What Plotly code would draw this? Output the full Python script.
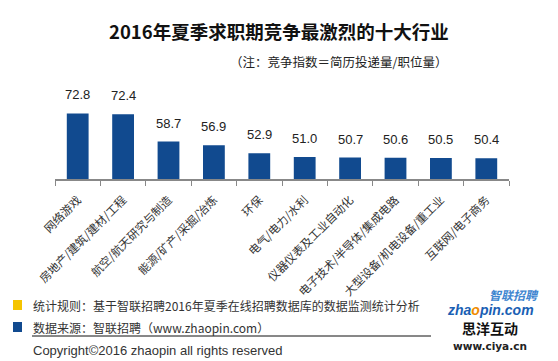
import plotly.graph_objects as go

categories = ["网络游戏", "房地产/建筑/建材/工程", "航空/航天研究与制造", "能源/矿产/采掘/冶炼", "环保",
              "电气/电力/水利", "仪器仪表及工业自动化", "电子技术/半导体/集成电路", "大型设备/机电设备/重工业", "互联网/电子商务"]
values = [72.8, 72.4, 58.7, 56.9, 52.9, 51.0, 50.7, 50.6, 50.5, 50.4]
value_labels = ["72.8", "72.4", "58.7", "56.9", "52.9", "51.0", "50.7", "50.6", "50.5", "50.4"]

W, H = 558, 361
L, R, T, B = 55, 509, 90, 179
CJK = "Noto Sans CJK SC"

def px(x):
    return (x - L) / (R - L)

def py(y):
    return (B - y) / (B - T)

fig = go.Figure()
fig.add_trace(go.Bar(x=categories, y=values, width=0.48, marker=dict(color="#114A8F", line=dict(width=0)),
                     hoverinfo="skip"))

annotations = []
for c, v, t in zip(categories, values, value_labels):
    annotations.append(dict(x=c, y=v, xref="x", yref="y", text=t, showarrow=False, yanchor="bottom",
                            yshift=9, font=dict(family="Liberation Sans, Arial", size=13, color="#222")))

annotations += [
    dict(x=px(279), y=py(31), xref="paper", yref="paper", text="<b>2016年夏季求职期竞争最激烈的十大行业</b>",
         showarrow=False, xanchor="center", yanchor="middle", font=dict(family=CJK, size=18.5, color="#111")),
    dict(x=px(338), y=py(61), xref="paper", yref="paper", text="（注：竞争指数＝简历投递量/职位量）",
         showarrow=False, xanchor="center", yanchor="middle", font=dict(family=CJK, size=12.5, color="#222")),
    dict(x=px(31), y=py(305), xref="paper", yref="paper", text="统计规则：基于智联招聘2016年夏季在线招聘数据库的数据监测统计分析",
         showarrow=False, xanchor="left", yanchor="middle", font=dict(family=CJK, size=12, color="#333")),
    dict(x=px(31), y=py(327), xref="paper", yref="paper", text="数据来源：智联招聘（www.zhaopin.com）",
         showarrow=False, xanchor="left", yanchor="middle", font=dict(family=CJK, size=12, color="#333")),
    dict(x=px(31), y=py(350), xref="paper", yref="paper", text="Copyright©2016 zhaopin all rights reserved",
         showarrow=False, xanchor="left", yanchor="middle", font=dict(family="Liberation Sans, Arial", size=13, color="#333")),
    dict(x=px(514), y=py(294), xref="paper", yref="paper", text="<b><i>智联招聘</i></b>",
         showarrow=False, xanchor="center", yanchor="middle", borderpad=0,
         font=dict(family=CJK, size=12, color="#3F86D0")),
    dict(x=px(490), y=py(310), xref="paper", yref="paper",
         text="<b><i>zha<span style='color:#F08C00'>o</span>pin.com</i></b>",
         showarrow=False, xanchor="center", yanchor="middle", borderpad=0,
         font=dict(family="Liberation Sans, Arial", size=14, color="#1A5FB4")),
    dict(x=px(490), y=py(328), xref="paper", yref="paper", text="<b>思洋互动</b>",
         showarrow=False, xanchor="center", yanchor="middle", borderpad=0,
         font=dict(family=CJK, size=14, color="#111")),
    dict(x=px(490), y=py(346), xref="paper", yref="paper", text="<b>www.ciya.cn</b>",
         showarrow=False, xanchor="center", yanchor="middle", borderpad=0,
         font=dict(family="DejaVu Sans, Arial", size=10.5, color="#222")),
]

shapes = [
    dict(type="rect", xref="paper", yref="paper", x0=px(13), x1=px(22), y0=py(300), y1=py(310),
         fillcolor="#F5C400", line=dict(width=0)),
    dict(type="rect", xref="paper", yref="paper", x0=px(13), x1=px(22), y0=py(322), y1=py(332),
         fillcolor="#114A8F", line=dict(width=0)),
    dict(type="line", xref="paper", yref="paper", x0=px(32), x1=px(431), y0=py(336), y1=py(336),
         line=dict(color="#111", width=1)),
]

fig.update_layout(
    width=W, height=H,
    margin=dict(l=L, r=W - R, t=T, b=H - B, pad=0),
    paper_bgcolor="white", plot_bgcolor="white",
    showlegend=False,
    annotations=annotations, shapes=shapes,
    xaxis=dict(type="category", range=[-0.5, 9.5], tickangle=-45, tickson="boundaries",
               ticks="outside", ticklen=5, tickcolor="#888", tickwidth=1,
               showline=True, linecolor="#888", linewidth=1.5, showgrid=False, zeroline=False,
               tickfont=dict(family=CJK, size=11.5, color="#333"), automargin=False, ticklabelstandoff=8),
    yaxis=dict(range=[40, 84.5], visible=False, showgrid=False, zeroline=False, automargin=False),
)

fig.write_html("out.html", config={"displayModeBar": False},
               post_script="document.body.style.margin='0';document.body.style.overflow='hidden';")
